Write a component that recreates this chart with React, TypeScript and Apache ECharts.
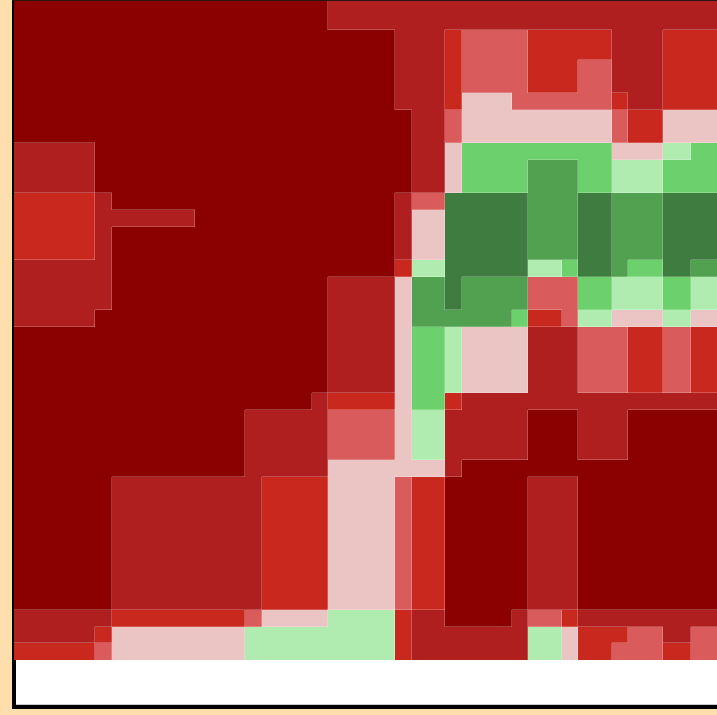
import React, { useEffect, useRef } from "react";
import * as echarts from "echarts";

// colour levels: 0 = darkest red ... 8 = darkest green
const levelColors = [
  "#8B0000",
  "#AF1F1F",
  "#C9281F",
  "#D95B5B",
  "#EBC4C4",
  "#B0ECB0",
  "#6CD16C",
  "#51A150",
  "#3F7C40",
];

// column boundaries (grid units)
const xEdges = [0, 5, 6, 11, 14, 15, 18, 19, 23, 24, 26, 27, 30, 31, 33, 34, 36, 37, 39.1, 40.75, 46];
// row boundaries (grid units, top to bottom)
const yEdges = [-1, 1.22, 3, 5, 6, 8, 9, 11, 12, 13, 15, 16, 17, 18, 19, 23, 24, 27, 28, 36, 37, 38, 39];

// level of every cell, one string per row
const cellRows = [
  "00000001111111111111",
  "00000000112332221122",
  "00000000112332231122",
  "00000000112433332122",
  "00000000013444443244",
  "10000000014666664456",
  "10000000014667765566",
  "21000000138887787788",
  "21100000148887787788",
  "21000000148887787788",
  "11000000258885687687",
  "11000001478773365565",
  "11000001478773365565",
  "10000001477762354454",
  "00000001465441133232",
  "00000012462111111111",
  "00001113451110011000",
  "00001114441000000000",
  "00111224320001100000",
  "11223445210013211111",
  "12445555211115422313",
  "23445555211115423323",
];

const UNIT = 50 / 3;
const GRID_LEFT = 14;
const GRID_TOP = 1;
const GRID_W = 703;
const GRID_H = 704;
const X_MIN = 0.14;
const Y_MIN = -0.54;

export default function App() {
  const ref = useRef<HTMLDivElement>(null);

  useEffect(() => {
    document.body.style.margin = "0";
    if (!ref.current) return;
    const chart = echarts.init(ref.current, null, { renderer: "svg" });

    const data: number[][] = [];
    for (let r = 0; r < cellRows.length; r++) {
      const row = cellRows[r];
      for (let c = 0; c < row.length; c++) {
        const lv = Number(row[c]);
        const rightDiff = c + 1 < row.length && row[c + 1] !== row[c] ? 1 : 0;
        const bottomDiff =
          r + 1 < cellRows.length && cellRows[r + 1][c] !== row[c] ? 1 : 0;
        data.push([xEdges[c], yEdges[r], xEdges[c + 1], yEdges[r + 1], lv, rightDiff, bottomDiff]);
      }
    }

    const option: any = {
      animation: false,
      backgroundColor: "transparent",
      graphic: [
        { type: "rect", z: 0, shape: { x: 12, y: 0, width: 760, height: 709 }, style: { fill: "#000" } },
        { type: "rect", z: 0, shape: { x: 16, y: 1, width: 760, height: 703 }, style: { fill: "#fff" } },
        { type: "line", z: 0, shape: { x1: 16, y1: 704.5, x2: 760, y2: 704.5 }, style: { stroke: "#c8c8c8", lineWidth: 1 } },
        { type: "line", z: 0, shape: { x1: 12, y1: 0.5, x2: 760, y2: 0.5 }, style: { stroke: "#2a1414", lineWidth: 1 } },
      ],
      grid: { left: GRID_LEFT, top: GRID_TOP, width: GRID_W, height: GRID_H, show: false },
      xAxis: { type: "value", min: X_MIN, max: X_MIN + GRID_W / UNIT, show: false },
      yAxis: { type: "value", inverse: true, min: Y_MIN, max: Y_MIN + GRID_H / UNIT, show: false },
      series: [
        {
          type: "custom",
          coordinateSystem: "cartesian2d",
          encode: { x: [0, 2], y: [1, 3] },
          data,
          renderItem: (params: any, api: any) => {
            const cs = params.coordSys;
            const p0 = api.coord([api.value(0), api.value(1)]);
            const p1 = api.coord([api.value(2), api.value(3)]);
            const left = Math.max(Math.round(p0[0]), cs.x);
            const right = Math.min(Math.round(p1[0]), cs.x + cs.width);
            const top = Math.max(Math.round(p0[1]), cs.y);
            const bottom = Math.min(Math.round(p1[1]), cs.y + cs.height);
            const lv = api.value(4);
            const children: any[] = [
              {
                type: "rect",
                shape: { x: left, y: top, width: right - left, height: bottom - top },
                style: { fill: levelColors[lv] },
              },
            ];
            const lineStyle = { stroke: "rgba(255,255,255,0.22)", lineWidth: 1 };
            if (api.value(5) === 1) {
              children.push({
                type: "line",
                z2: 10,
                shape: { x1: right - 0.5, y1: top, x2: right - 0.5, y2: bottom },
                style: lineStyle,
              });
            }
            if (api.value(6) === 1) {
              children.push({
                type: "line",
                z2: 10,
                shape: { x1: left, y1: bottom - 0.5, x2: right, y2: bottom - 0.5 },
                style: lineStyle,
              });
            }
            return { type: "group", children };
          },
        },
      ],
    };

    chart.setOption(option);
    return () => chart.dispose();
  }, []);

  return (
    <div style={{ width: 717, height: 715, background: "#FFDEAD", overflow: "hidden" }}>
      <div ref={ref} style={{ width: 717, height: 715 }} />
    </div>
  );
}
